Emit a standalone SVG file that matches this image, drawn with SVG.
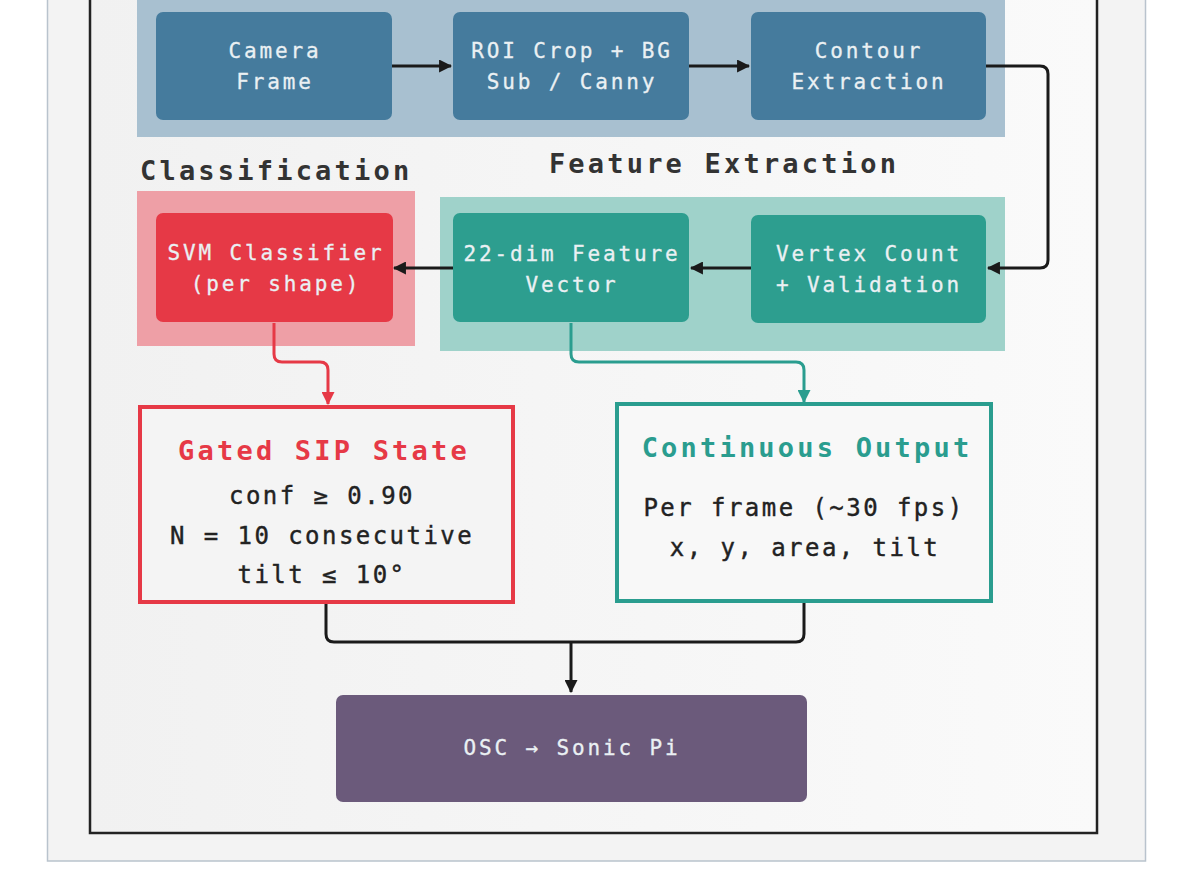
<svg xmlns="http://www.w3.org/2000/svg" width="1200" height="888" viewBox="0 0 1200 888">
<defs>
<style>
.nt{font-family:"DejaVu Sans Mono","Liberation Mono",monospace;font-size:21px;letter-spacing:2.85px;fill:#eaf0f3;stroke:#eaf0f3;stroke-width:0.3px;text-anchor:middle}
.sec{font-family:"DejaVu Sans Mono","Liberation Mono",monospace;font-size:27px;letter-spacing:3.2px;fill:#333;font-weight:bold}
.ttl{font-family:"DejaVu Sans Mono","Liberation Mono",monospace;font-size:27px;letter-spacing:3.2px;font-weight:bold;text-anchor:middle}
.bd{font-family:"DejaVu Sans Mono","Liberation Mono",monospace;font-size:24px;letter-spacing:2.45px;fill:#222;stroke:#222;stroke-width:0.4px;text-anchor:middle}
.edge{fill:none;stroke-width:3;stroke-linejoin:round}
</style>
<marker id="ak" viewBox="0 0 12 12" refX="11" refY="6" markerWidth="13" markerHeight="13" markerUnits="userSpaceOnUse" orient="auto"><path d="M0,0 L12,6 L0,12 z" fill="#1a1a1a"/></marker>
<marker id="ar" viewBox="0 0 12 12" refX="11" refY="6" markerWidth="13" markerHeight="13" markerUnits="userSpaceOnUse" orient="auto"><path d="M0,0 L12,6 L0,12 z" fill="#e63946"/></marker>
<marker id="at" viewBox="0 0 12 12" refX="11" refY="6" markerWidth="13" markerHeight="13" markerUnits="userSpaceOnUse" orient="auto"><path d="M0,0 L12,6 L0,12 z" fill="#2a9d8f"/></marker>
<linearGradient id="bg" x1="0" y1="0" x2="1" y2="0"><stop offset="0" stop-color="#f1f1f1"/><stop offset="1" stop-color="#fafafa"/></linearGradient>
</defs>
<rect x="0" y="0" width="1200" height="888" fill="#ffffff"/>
<rect x="47.5" y="-10" width="1098" height="871" fill="#f3f3f3" stroke="#b9c3cd" stroke-width="1.5"/>
<rect x="90" y="-10" width="1007" height="843" fill="url(#bg)" stroke="#222" stroke-width="2.5"/>

<g id="cluster-top"><rect x="137" y="-10" width="868" height="147" fill="#a8c0d0"/></g>
<g id="cluster-classification"><rect x="137" y="191" width="278" height="155" fill="#ee9fa6"/><text class="sec" x="140" y="180">Classification</text></g>
<g id="cluster-feature"><rect x="440" y="197" width="565" height="154" fill="#9fd2ca"/><text class="sec" x="724" y="173" text-anchor="middle">Feature Extraction</text></g>

<g id="edges">
<path class="edge" style="stroke:#1a1a1a" d="M392,66 H451" marker-end="url(#ak)"/>
<path class="edge" style="stroke:#1a1a1a" d="M689,66 H749" marker-end="url(#ak)"/>
<path class="edge" style="stroke:#1a1a1a" d="M986,66 H1040 Q1048,66 1048,74 V260 Q1048,268 1040,268 H988" marker-end="url(#ak)"/>
<path class="edge" style="stroke:#1a1a1a" d="M751,268 H691" marker-end="url(#ak)"/>
<path class="edge" style="stroke:#1a1a1a" d="M453,268 H394" marker-end="url(#ak)"/>
<path class="edge" style="stroke:#e63946" d="M274,323 V354 Q274,362 282,362 H320 Q328,362 328,370 V404" marker-end="url(#ar)"/>
<path class="edge" style="stroke:#2a9d8f" d="M571,323 V354 Q571,362 579,362 H796 Q804,362 804,370 V402" marker-end="url(#at)"/>
<path class="edge" style="stroke:#1a1a1a" d="M326,603 V634 Q326,642 334,642 H796 Q804,642 804,634 V602"/>
<path class="edge" style="stroke:#1a1a1a" d="M571,642 V692" marker-end="url(#ak)"/>
</g>

<g id="camera"><rect x="156" y="12" width="236" height="108" rx="7" fill="#457b9d"/><text class="nt" x="275" y="58">Camera</text><text class="nt" x="275" y="89">Frame</text></g>
<g id="roi"><rect x="453" y="12" width="236" height="108" rx="7" fill="#457b9d"/><text class="nt" x="572" y="58">ROI Crop + BG</text><text class="nt" x="572" y="89">Sub / Canny</text></g>
<g id="contour"><rect x="751" y="12" width="235" height="108" rx="7" fill="#457b9d"/><text class="nt" x="869" y="58">Contour</text><text class="nt" x="869" y="89">Extraction</text></g>

<g id="svm"><rect x="156" y="213" width="237" height="109" rx="7" fill="#e63946"/><text class="nt" x="276" y="260">SVM Classifier</text><text class="nt" x="276" y="291">(per shape)</text></g>
<g id="featvec"><rect x="453" y="213" width="236" height="109" rx="7" fill="#2d9e8f"/><text class="nt" x="572" y="261">22-dim Feature</text><text class="nt" x="572" y="292">Vector</text></g>
<g id="vertex"><rect x="751" y="215" width="235" height="108" rx="7" fill="#2d9e8f"/><text class="nt" x="869" y="261">Vertex Count</text><text class="nt" x="869" y="292">+ Validation</text></g>

<g id="gated"><rect x="140" y="407" width="373" height="195" fill="#f4f4f4" stroke="#e63946" stroke-width="4"/>
<text class="ttl" x="324" y="460" fill="#e63946">Gated SIP State</text>
<text class="bd" x="322" y="504">conf ≥ 0.90</text>
<text class="bd" x="322" y="544">N = 10 consecutive</text>
<text class="bd" x="322" y="583">tilt ≤ 10°</text></g>

<g id="continuous"><rect x="617" y="404" width="374" height="197" fill="#f8f8f8" stroke="#2a9d8f" stroke-width="4"/>
<text class="ttl" x="807" y="457" fill="#2a9d8f">Continuous Output</text>
<text class="bd" x="804" y="516">Per frame (~30 fps)</text>
<text class="bd" x="805" y="556">x, y, area, tilt</text></g>

<g id="osc"><rect x="336" y="695" width="471" height="107" rx="7" fill="#6b5a7b"/><text class="nt" x="572" y="755">OSC → Sonic Pi</text></g>
</svg>
